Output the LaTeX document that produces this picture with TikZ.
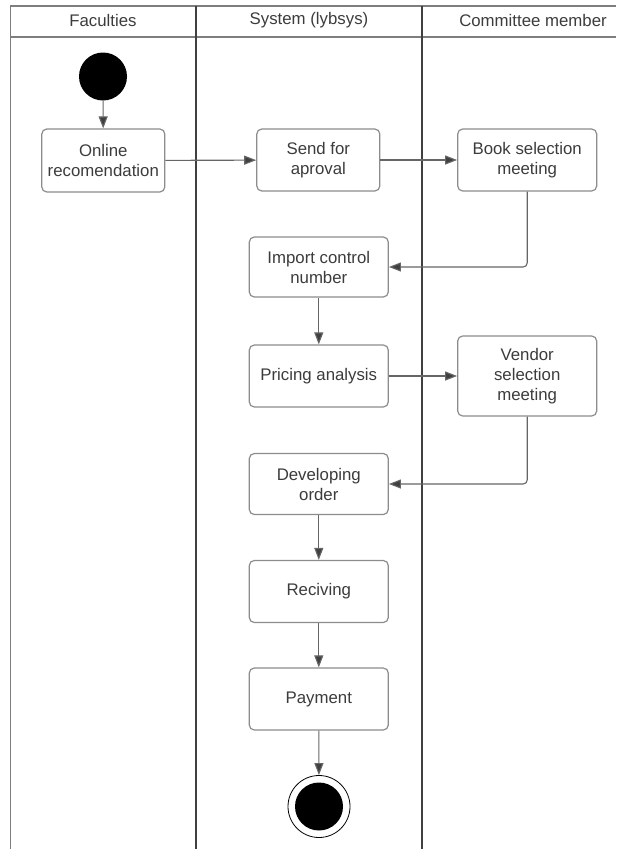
\documentclass[tikz,border=0pt]{standalone}
\usepackage{fontspec}
\setmainfont{Liberation Sans}
\usetikzlibrary{arrows.meta}

\definecolor{testo}{HTML}{3C3C3C}
\definecolor{bordo}{HTML}{8C8C8C}
\definecolor{linea}{HTML}{666666}

\begin{document}
\begin{tikzpicture}[x=1pt, y=-1pt,
    attivita/.style={draw=bordo, line width=1.2pt, rounded corners=5pt, fill=white,
        align=center, text=testo, inner sep=0pt, minimum width=139pt, minimum height=62pt,
        font=\fontsize{16.8}{20}\selectfont},
    intestazione/.style={text=testo, inner sep=0pt, font=\fontsize{16.8}{20}\selectfont},
    freccia/.style={draw=linea, line width=1.1pt, -{Triangle[length=12pt,width=9pt,fill=black!75]}},
    cornice/.style={draw=bordo!90!black, line width=1.6pt},
    corsia/.style={draw=black!75, line width=2pt}]
        % dbg grid
        %\draw[help lines] (0,0) grid[step=50] (616,849);
        \useasboundingbox (0,0) rectangle (616,849);

        % corsie
        \draw[cornice] (616,5.7) -- (10.5,5.7) -- (10.5,849);
        \draw[cornice] (10.5,37) -- (616,37);
        \draw[corsia] (196,5.7) -- (196,849);
        \draw[corsia] (421.7,5.7) -- (421.7,849);

        % intestazioni
        \node[intestazione] (Faculties) at (103,20.5) {Faculties};
        \node[intestazione] (System)    at (309,20.5) {System (lybsys)};
        \node[intestazione] (Committee) at (533,20.5) {Committee member};

        % inizio e fine
        \node[circle, fill=black, minimum size=48pt, inner sep=0pt] (Start) at (103,76.5) {};
        \node[circle, draw=black, line width=0.8pt, minimum size=62pt, inner sep=0pt] (End) at (319,806.5) {};
        \node[circle, fill=black, minimum size=48pt, inner sep=0pt] (EndDot) at (End) {};

        % attivita
        \node[attivita, minimum width=123pt, minimum height=63pt] (Online) at (103.3,160.5) {Online\\recomendation};
        \node[attivita, minimum width=123pt] (Send) at (318.3,160) {Send for\\aproval};
        \node[attivita] (Book)       at (527.2,160)   {Book selection\\meeting};
        \node[attivita, minimum height=60pt] (Import) at (318.8,267) {Import control\\number};
        \node[attivita] (Pricing)    at (318.8,376)   {Pricing analysis};
        \node[attivita, minimum height=80pt] (Vendor) at (527.2,376) {Vendor\\selection\\meeting};
        \node[attivita, minimum height=61pt] (Developing) at (318.8,484) {Developing\\order};
        \node[attivita] (Reciving)   at (318.8,591.5) {Reciving};
        \node[attivita] (Payment)    at (318.8,699)   {Payment};

        % frecce
        \draw[freccia] (Start) -- (Online);
        \draw[freccia] (Online) -- (Send);
        \draw[freccia] (Send) -- (Book);
        \draw[freccia, rounded corners=4pt] (Book.south) |- (Import.east);
        \draw[freccia] (Import) -- (Pricing);
        \draw[freccia] (Pricing) -- (Vendor);
        \draw[freccia, rounded corners=4pt] (Vendor.south) |- (Developing.east);
        \draw[freccia] (Developing) -- (Reciving);
        \draw[freccia] (Reciving) -- (Payment);
        \draw[freccia] (Payment) -- (End);
\end{tikzpicture}
\end{document}
